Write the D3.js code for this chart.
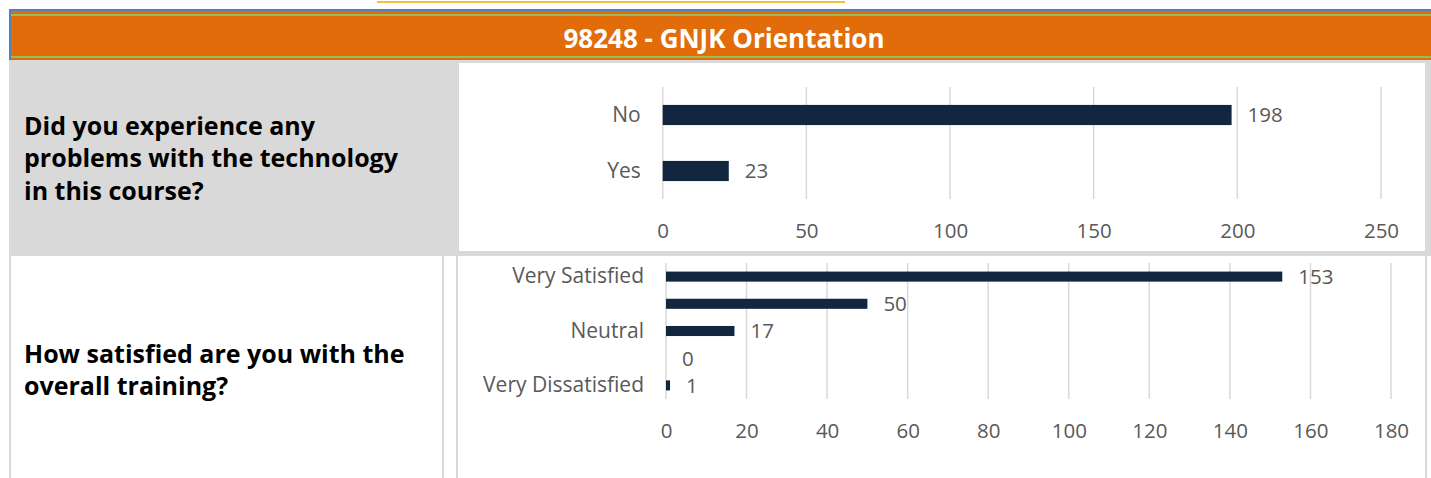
<!DOCTYPE html>
<html>
<head>
<meta charset="utf-8">
<script src="https://cdn.jsdelivr.net/npm/d3@7"></script>
<style>
  body { margin: 0; background: #fff; }
  svg { display: block; font-family: "Open Sans", "Noto Sans", sans-serif; }
</style>
</head>
<body>
<svg></svg>
<script>
// survey report: two horizontal bar charts

var title = "98248 - GNJK Orientation";

var q1Lines = ["Did you experience any", "problems with the technology", "in this course?"];
var q1Categories = ["No", "Yes"];
var q1Values = [198, 23];
var q1Ticks = [0, 50, 100, 150, 200, 250];

var q2Lines = ["How satisfied are you with the", "overall training?"];
var q2Categories = ["Very Satisfied", "Satisfied", "Neutral", "Dissatisfied", "Very Dissatisfied"];
var q2Values = [153, 50, 17, 0, 1];
var q2Ticks = [0, 20, 40, 60, 80, 100, 120, 140, 160, 180];
var q2ShownLabels = ["Very Satisfied", "Neutral", "Very Dissatisfied"];

var svgWidth = 1431, svgHeight = 478;
var barColor = "#13263f", gridColor = "#d9d9d9", textColor = "#595959";
var fontStack = "\"Open Sans\", \"Noto Sans\", sans-serif";

var svg = d3.select("svg")
    .attr("width", svgWidth)
    .attr("height", svgHeight);

// little yellow line on top
svg.append("rect").attr("x", 377).attr("y", 1).attr("width", 468).attr("height", 2).attr("fill", "#f6bd45");

// header band
svg.append("rect").attr("x", 9).attr("y", 9).attr("width", svgWidth - 9).attr("height", 52).attr("fill", "#e26b0a");
svg.append("rect").attr("x", 9).attr("y", 9).attr("width", svgWidth - 9).attr("height", 2).attr("fill", "#4f81bd");
svg.append("rect").attr("x", 9).attr("y", 9).attr("width", 2).attr("height", 52).attr("fill", "#4f81bd");
svg.append("rect").attr("x", 11).attr("y", 14).attr("width", svgWidth - 11).attr("height", 2).attr("fill", "#9bbb59");
svg.append("rect").attr("x", 11).attr("y", 56).attr("width", svgWidth - 11).attr("height", 2).attr("fill", "#9bbb59");
svg.append("text")
    .attr("x", 724).attr("y", 41)
    .attr("text-anchor", "middle").attr("dominant-baseline", "middle")
    .attr("fill", "#fff").attr("font-weight", "bold").attr("font-size", 26)
    .text(title);

// row 1 background (grey) with white chart box
svg.append("rect").attr("x", 9).attr("y", 60).attr("width", svgWidth - 9).attr("height", 196).attr("fill", "#d9d9d9");
svg.append("rect").attr("x", 459).attr("y", 63).attr("width", 966).attr("height", 188).attr("fill", "#fff");

// row 2 cell lines
svg.append("rect").attr("x", 9).attr("y", 256).attr("width", 2).attr("height", 222).attr("fill", "#d9d9d9");
svg.append("rect").attr("x", 442).attr("y", 256).attr("width", 2).attr("height", 222).attr("fill", "#d9d9d9");
svg.append("rect").attr("x", 456).attr("y", 256).attr("width", 2).attr("height", 222).attr("fill", "#d9d9d9");
svg.append("rect").attr("x", 1425).attr("y", 256).attr("width", 2).attr("height", 222).attr("fill", "#d9d9d9");

function question(lines, y0) {
    svg.append("g").selectAll("text")
        .data(lines)
        .enter()
        .append("text")
        .attr("x", 24)
        .attr("y", function(d, i) { return y0 + i * 32.5; })
        .attr("dominant-baseline", "middle")
        .attr("font-weight", "bold")
        .attr("font-size", 25)
        .attr("fill", "#000")
        .text(function(d) { return d; });
}

question(q1Lines, 128);
question(q2Lines, 356);

function barChart(cats, vals, ticks, x0, x1, y0, y1, tickY, inner, shown) {
    var xScale = d3.scaleLinear()
        .domain([0, d3.max(ticks)])
        .range([x0, x1]);
    var yScale = d3.scaleBand()
        .domain(cats)
        .range([y0, y1])
        .paddingInner(inner)
        .paddingOuter(inner / 2);

    var g = svg.append("g");

    // gridlines
    g.selectAll("line.grid")
        .data(ticks)
        .enter()
        .append("line")
        .attr("x1", function(d) { return xScale(d); })
        .attr("x2", function(d) { return xScale(d); })
        .attr("y1", y0).attr("y2", y1)
        .attr("stroke", gridColor)
        .attr("stroke-width", 1.5);

    // tick labels via axis
    var axis = d3.axisBottom(xScale).tickValues(ticks).tickSize(0).tickPadding(0);
    var ax = g.append("g")
        .attr("transform", "translate(0," + tickY + ")")
        .call(axis);
    ax.select(".domain").remove();
    ax.selectAll("text")
        .attr("font-size", 20.5)
        .attr("font-family", fontStack)
        .attr("fill", textColor)
        .attr("dy", "0.35em")
        .attr("y", 0);

    // category labels
    var yAxis = d3.axisLeft(yScale).tickSize(0).tickPadding(0)
        .tickFormat(function(d) { return shown.indexOf(d) >= 0 ? d : ""; });
    var ay = g.append("g")
        .attr("transform", "translate(" + (x0 - 22) + ",0)")
        .call(yAxis);
    ay.select(".domain").remove();
    ay.selectAll("text")
        .attr("font-size", 21)
        .attr("font-family", fontStack)
        .attr("fill", textColor);

    // bars
    g.selectAll("rect")
        .data(vals)
        .enter()
        .append("rect")
        .attr("x", xScale(0))
        .attr("y", function(d, i) { return yScale(cats[i]); })
        .attr("width", function(d) { return xScale(d) - xScale(0); })
        .attr("height", yScale.bandwidth())
        .attr("fill", barColor);

    // value labels
    g.selectAll("text.val")
        .data(vals)
        .enter()
        .append("text")
        .attr("class", "val")
        .attr("x", function(d) { return xScale(d) + 16; })
        .attr("y", function(d, i) { return yScale(cats[i]) + yScale.bandwidth() / 2 + 2; })
        .attr("dominant-baseline", "middle")
        .attr("font-size", 20.5)
        .attr("fill", textColor)
        .text(function(d) { return d; });
}

barChart(q1Categories, q1Values, q1Ticks, 662.7, 1381, 87, 199, 231, 0.64, q1Categories);
barChart(q2Categories, q2Values, q2Ticks, 666, 1391, 263, 399, 431, 0.63, q2ShownLabels);
</script>
</body>
</html>
